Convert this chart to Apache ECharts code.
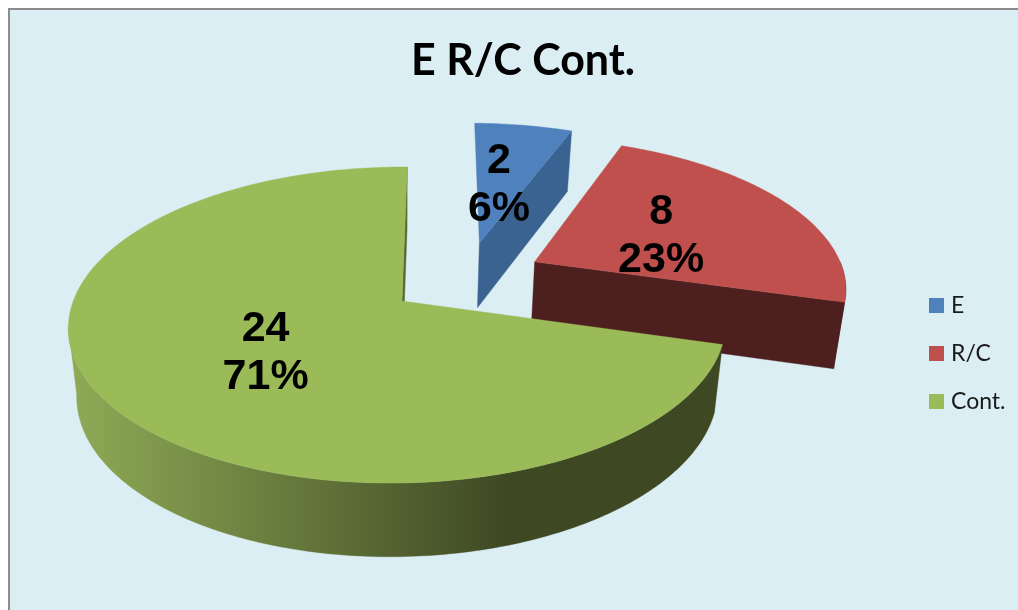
<!DOCTYPE html>
<html><head><meta charset="utf-8">
<style>html,body{margin:0;padding:0;background:#fff}#c{width:1018px;height:610px}</style>
<script src="https://cdn.jsdelivr.net/npm/echarts@6/dist/echarts.min.js"></script>
</head><body><div id="c"></div>
<script>
const titleText = 'E R/C Cont.';
const categories = ['E', 'R/C', 'Cont.'];
const values = [2, 8, 24];
const percentLabels = ['6%', '23%', '71%'];
const topColors = ['#4f81bd', '#c0504d', '#9bbb59'];
const cutColors = ['#3b6391', '#4d1f1f', '#56692f'];
const wallStops = [
  ['#3b6391', '#3b6391'],
  ['#4d1f1f', '#4d1f1f'],
  ['#8fab56', '#3e4823']
];
// Each slice's explosion, in disc radii (across, into the picture)
const explodeAcross = [0.246, 0.422, 0];
const explodeInto = [0.40, 0.265, 0];
// Small hand adjustment of each data label, in pixels
const labelNudgeX = [-4, -4, 2];
const labelNudgeY = [5, 5, 3];

const VIEW = {cx: 402, cy: 301, rx: 324.8, ry: 154.4, shear: 6, p: 0.152, q: 0.012,
  wallShrink: 0.025, wallBase: 30, wallPersp: 37, wallFrom: 90, wallTo: 261};

function project(u, v, z) {
  const s = 1 / (1 + VIEW.p * v + VIEW.q * u);
  return [
    VIEW.cx + (VIEW.rx * u + VIEW.shear * v) * s * (1 - VIEW.wallShrink * z),
    VIEW.cy - VIEW.ry * v * s + z * (VIEW.wallBase + VIEW.wallPersp * s)
  ];
}
const total = values.reduce((a, b) => a + b, 0);
function sliceRange(i) {
  let a = 0;
  for (let k = 0; k < i; k++) a += values[k];
  return [a / total * 360, (a + values[i]) / total * 360];
}
function rad(d) { return d * Math.PI / 180; }
function rimPoint(i, deg, z) {
  return project(explodeAcross[i] + Math.sin(rad(deg)), explodeInto[i] + Math.cos(rad(deg)), z);
}
function arcPoints(i, a0, a1, z) {
  const pts = [], n = Math.max(2, Math.ceil(Math.abs(a1 - a0)));
  for (let k = 0; k <= n; k++) pts.push(rimPoint(i, a0 + (a1 - a0) * k / n, z));
  return pts;
}
function poly(points, fill) {
  return {type: 'polygon', shape: {points}, style: {fill, stroke: fill, lineWidth: 0.4}};
}
function renderSlice(i) {
  return function () {
    const [a0, a1] = sliceRange(i);
    const apexT = project(explodeAcross[i], explodeInto[i], 0);
    const apexB = project(explodeAcross[i], explodeInto[i], 1);
    const children = [];
    // only the front of the rim faces the viewer, up to the left silhouette
    const w0 = Math.max(a0, VIEW.wallFrom), w1 = Math.min(a1, VIEW.wallTo);
    if (w1 > w0) {
      const fill = new echarts.graphic.LinearGradient(68, 0, 510, 0, [
        {offset: 0, color: wallStops[i][0]},
        {offset: 1, color: wallStops[i][1]}
      ], true);
      children.push(poly(arcPoints(i, w0, w1, 0).concat(arcPoints(i, w1, w0, 1)), fill));
    }
    // cut faces that turn toward the viewer
    if (Math.sin(rad(a0)) < -1e-6) {
      children.push(poly([apexT, rimPoint(i, a0, 0), rimPoint(i, a0, 1), apexB], cutColors[i]));
    }
    if (Math.sin(rad(a1)) > -1e-6) {
      children.push(poly([apexT, rimPoint(i, a1, 0), rimPoint(i, a1, 1), apexB], cutColors[i]));
    }
    children.push(poly([apexT].concat(arcPoints(i, a0, a1, 0)), topColors[i]));
    return {type: 'group', children};
  };
}
function renderLabel(params, api) {
  const i = params.dataIndex;
  const [a0, a1] = sliceRange(i);
  const mid = (a0 + a1) / 2;
  const p = project(explodeAcross[i] + 0.5 * Math.sin(rad(mid)), explodeInto[i] + 0.5 * Math.cos(rad(mid)), 0);
  return {type: 'text', style: {
    x: p[0] + labelNudgeX[i], y: p[1] + labelNudgeY[i], text: api.value(0) + '\n' + percentLabels[i],
    align: 'center', verticalAlign: 'middle',
    fontFamily: '"Liberation Sans"', fontWeight: 'bold', fontSize: 43, lineHeight: 48, fill: '#000'
  }};
}
const chart = echarts.init(document.getElementById('c'), null, {renderer: 'canvas'});
const series = categories.map(function (name, i) {
  return {type: 'custom', name, coordinateSystem: 'none', z: 2 + i, silent: true,
    itemStyle: {color: topColors[i]}, renderItem: renderSlice(i), data: [[values[i]]]};
});
series.push({type: 'custom', name: 'labels', coordinateSystem: 'none', z: 10, silent: true,
  renderItem: renderLabel, data: values.map(v => [v])});
chart.setOption({
  animation: false,
  backgroundColor: '#fff',
  graphic: [{type: 'rect', z: -10, silent: true, shape: {x: 9, y: 9, width: 1100, height: 700},
    style: {fill: '#dbeef4', stroke: '#8c8c8c', lineWidth: 2}}],
  title: {text: titleText, left: 518, top: 35, textAlign: 'center',
    textStyle: {fontFamily: 'Lato', fontWeight: 'bold', fontSize: 43, color: '#000'}},
  legend: {orient: 'vertical', left: 929, top: 294, padding: 0, data: categories, icon: 'rect',
    itemWidth: 15, itemHeight: 15, itemGap: 25, selectedMode: false,
    textStyle: {fontFamily: 'Lato', fontSize: 23, color: '#1a1a1a', padding: [0, 0, 0, 2]}},
  series
});
</script></body></html>
